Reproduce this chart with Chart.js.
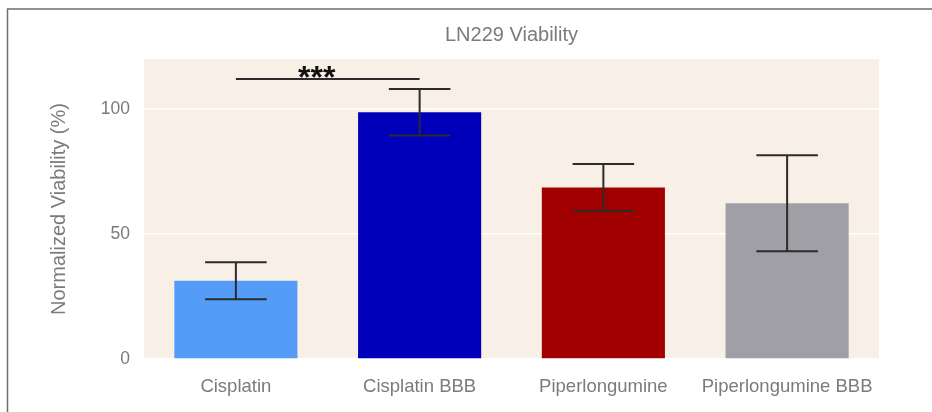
<!DOCTYPE html>
<html>
<head>
<meta charset="utf-8">
<title>LN229 Viability</title>
<script src="https://cdn.jsdelivr.net/npm/chart.js@4.4.1/dist/chart.umd.min.js"></script>
<style>
  html, body { margin: 0; padding: 0; background: #fff; }
  #wrap { width: 932px; height: 412px; position: relative; }
</style>
</head>
<body>
<div id="wrap"><canvas id="chart"></canvas></div>
<script>
// data
const categories = ['Cisplatin', 'Cisplatin BBB', 'Piperlongumine', 'Piperlongumine BBB'];
const viability = [31.3, 98.7, 68.6, 62.3];
const errorSD = [7.4, 9.3, 9.4, 19.2];
const barColors = ['#559cf9', '#0000bb', '#a00000', '#a09fa5'];
const yTicks = [0, 50, 100];
const sigPair = [0, 1];
const sigLevel = 112;
const sigLabel = '***';
const chartTitle = 'LN229 Viability';

const textGray = '#7b7b7b';
const fontFamily = '"Liberation Sans", Arial, sans-serif';

// frame, plot background, title, error bars and the significance bracket
const extras = {
    id: 'extras',
    beforeDraw(chart) {
        const ctx = chart.ctx;
        const a = chart.chartArea;
        ctx.save();
        ctx.fillStyle = '#f8f0e7';
        ctx.fillRect(a.left, a.top, a.right - a.left, a.bottom - a.top);
        // frame round the figure (open to the right and bottom)
        ctx.strokeStyle = '#6e6e6e';
        ctx.lineWidth = 1.5;
        ctx.beginPath();
        ctx.moveTo(7.5, chart.height);
        ctx.lineTo(7.5, 9);
        ctx.lineTo(chart.width, 9);
        ctx.stroke();
        // title is centred over the plot area, not the whole canvas
        ctx.fillStyle = textGray;
        ctx.font = '20px ' + fontFamily;
        ctx.textAlign = 'center';
        ctx.textBaseline = 'middle';
        ctx.fillText(chartTitle, (a.left + a.right) / 2, 35);
        ctx.restore();
    },
    afterDatasetsDraw(chart) {
        const ctx = chart.ctx;
        const y = chart.scales.y;
        const bars = chart.getDatasetMeta(0).data;
        ctx.save();
        ctx.strokeStyle = '#2b2b2b';
        ctx.lineWidth = 2;
        bars.forEach(function (bar, i) {
            const hi = y.getPixelForValue(viability[i] + errorSD[i]);
            const lo = y.getPixelForValue(viability[i] - errorSD[i]);
            const cap = bar.width / 4;
            ctx.beginPath();
            ctx.moveTo(bar.x, hi);
            ctx.lineTo(bar.x, lo);
            ctx.moveTo(bar.x - cap, hi);
            ctx.lineTo(bar.x + cap, hi);
            ctx.moveTo(bar.x - cap, lo);
            ctx.lineTo(bar.x + cap, lo);
            ctx.stroke();
        });

        // significance line between the two cisplatin bars
        const x0 = bars[sigPair[0]].x;
        const x1 = bars[sigPair[1]].x;
        const ly = y.getPixelForValue(sigLevel);
        ctx.beginPath();
        ctx.moveTo(x0, ly);
        ctx.lineTo(x1, ly);
        ctx.stroke();
        ctx.fillStyle = '#111';
        ctx.font = 'bold 32px ' + fontFamily;
        ctx.textAlign = 'center';
        ctx.textBaseline = 'alphabetic';
        ctx.fillText(sigLabel, x0 + (x1 - x0) * 0.44, ly + 9);
        ctx.restore();
    }
};

const ctx = document.getElementById('chart').getContext('2d');
new Chart(ctx, {
    type: 'bar',
    data: {
        labels: categories,
        datasets: [{
            data: viability,
            backgroundColor: barColors,
            borderWidth: 0,
            barPercentage: 0.67,
            categoryPercentage: 1
        }]
    },
    options: {
        responsive: true,
        maintainAspectRatio: false,
        animation: false,
        layout: { padding: { left: 0, right: 53, top: 59, bottom: 0 } },
        plugins: {
            legend: { display: false },
            tooltip: { enabled: false },
            title: { display: false }
        },
        scales: {
            x: {
                grid: { display: false, drawTicks: false },
                border: { display: false },
                ticks: {
                    color: textGray,
                    font: { family: fontFamily, size: 18.5 },
                    padding: 17,
                    maxRotation: 0
                },
                afterFit(scale) { scale.height = 53; }
            },
            y: {
                min: 0,
                max: 120,
                afterBuildTicks(scale) {
                    scale.ticks = yTicks.map(v => ({ value: v }));
                },
                grid: { color: '#ffffff', lineWidth: 1.5, drawTicks: false },
                border: { display: false },
                ticks: {
                    color: textGray,
                    font: { family: fontFamily, size: 17.5 },
                    padding: 14
                },
                title: {
                    display: true,
                    text: 'Normalized Viability (%)',
                    color: textGray,
                    font: { family: fontFamily, size: 20 },
                    padding: { top: 47, bottom: 0 }
                },
                afterFit(scale) { scale.width = 144; }
            }
        }
    },
    plugins: [extras]
});
</script>
</body>
</html>
